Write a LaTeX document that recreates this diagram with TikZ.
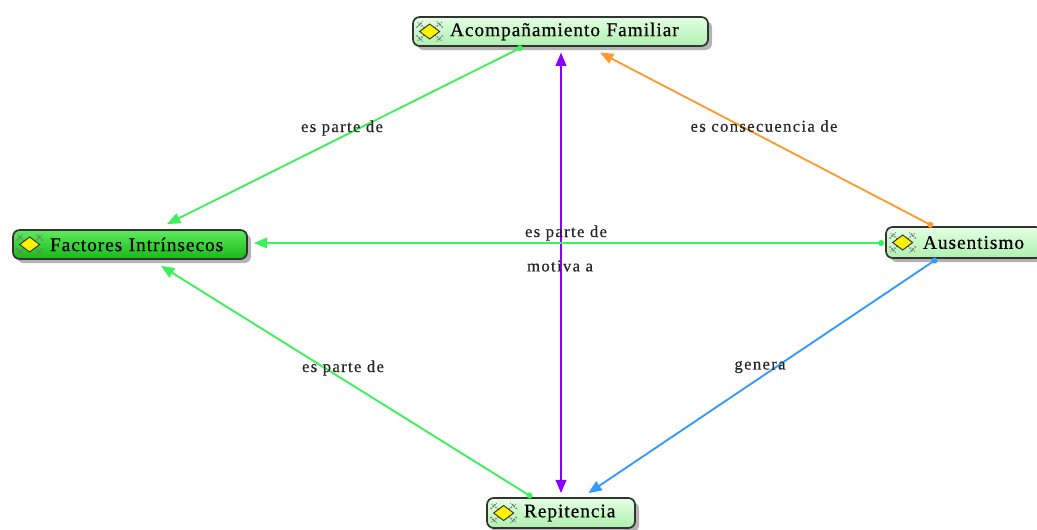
\documentclass[tikz,border=0pt]{standalone}
\usepackage{fontspec}
\setmainfont{Liberation Serif}
\usetikzlibrary{arrows.meta,shadows,calc}
\definecolor{lgreen}{HTML}{3CF05A}
\definecolor{lpurple}{HTML}{8A00FF}
\definecolor{lorange}{HTML}{FF9A30}
\definecolor{lblue}{HTML}{3399FF}
\definecolor{nodetop}{HTML}{E4FFE4}
\definecolor{nodebot}{HTML}{AEF0AE}
\definecolor{facttop}{HTML}{5EEA5E}
\definecolor{factbot}{HTML}{18B818}
\tikzset{
  concept/.style={draw=black!80, line width=1.3pt, rounded corners=5pt,
    inner xsep=0pt, inner ysep=0pt, align=left,
    font=\fontsize{14.5}{16}\selectfont\addfontfeature{LetterSpace=5,FakeBold=0.4},
    drop shadow={shadow xshift=3pt, shadow yshift=-3pt, opacity=0.6},
    top color=nodetop, bottom color=nodebot},
  factstyle/.style={top color=facttop, bottom color=factbot},
  linklabel/.style={font=\fontsize{12.5}{14}\selectfont\addfontfeature{LetterSpace=8,FakeBold=0.4}, inner sep=0pt, text=black!85},
  conn/.style={draw=#1, line width=1.4pt,
    {Circle[length=4.5pt,fill=#1]}-{Triangle[length=10pt,width=8pt,fill=#1]}},
  dconn/.style={draw=#1, line width=1.4pt,
    {Triangle[length=10pt,width=8pt,fill=#1]}-{Triangle[length=10pt,width=8pt,fill=#1]}},
  icon/.pic={
    \foreach \sx in {-1,1} \foreach \sy in {-1,1} {
      \draw[black!55, densely dotted, line width=1pt] (\sx*3,\sy*2) -- (\sx*12,\sy*9);
      \draw[black!55, densely dotted, line width=1pt] (\sx*13,\sy*4) -- (\sx*7,\sy*10);
    }
    \fill[yellow, draw=black!80, line width=0.7pt] (-10,0) -- (0,-7.5) -- (10,0) -- (0,7.5) -- cycle;
  }
}
\begin{document}
\begin{tikzpicture}[x=0.75pt,y=-0.75pt]
\useasboundingbox (0,0) rectangle (1037,529);

% nodes
\node[concept, text width=221.25pt, minimum height=21.75pt] (acomp) at (560.5,31.5)
  {\hspace*{27.75pt}Acompañamiento Familiar};
\node[concept, factstyle, text width=175.5pt, minimum height=21.75pt] (fact) at (130,244.5)
  {\hspace*{27.75pt}Factores Intrínsecos};
\node[concept, text width=117pt, minimum height=23.25pt] (ausent) at (964,242.5)
  {\hspace*{27.75pt}Ausentismo};
\node[concept, text width=111pt, minimum height=22.5pt] (rep) at (561,513)
  {\hspace*{27.75pt}Repitencia};

% icons
\pic at ($(acomp.west)+(17.5,0)$) {icon};
\pic at ($(fact.west)+(17.5,0)$) {icon};
\pic at ($(ausent.west)+(17.5,0)$) {icon};
\pic at ($(rep.west)+(17.5,0)$) {icon};

% connectors
\draw[conn=lgreen] ($(acomp.south)+(-38,0)$) -- ($(fact.north)+(37,-5)$);
\draw[dconn=lpurple] ($(acomp.south)+(0.5,5.7)$) -- ($(rep.north)+(0,-4)$);
\draw[conn=lorange] ($(ausent.north)+(-31,0)$) -- ($(acomp.south)+(39.5,5.7)$);
\draw[conn=lgreen] ($(ausent.west)+(-1,0.5)$) -- ($(fact.east)+(6,-1.5)$);
\draw[conn=lgreen] ($(rep.north)+(-29,0)$) -- ($(fact.south)+(31,6)$);
\draw[conn=lblue] ($(ausent.south)+(-27,0)$) -- ($(rep.north)+(27.3,-4)$);

% labels
\node[linklabel] (l1) at (342,128) {es parte de};
\node[linklabel] (l2) at (764,126) {es consecuencia de};
\node[linklabel] (l3) at (566,233) {es parte de};
\node[linklabel] (l4) at (560,266) {motiva a};
\node[linklabel] (l5) at (343,368) {es parte de};
\node[linklabel] (l6) at (760,367) {genera};
\end{tikzpicture}
\end{document}
